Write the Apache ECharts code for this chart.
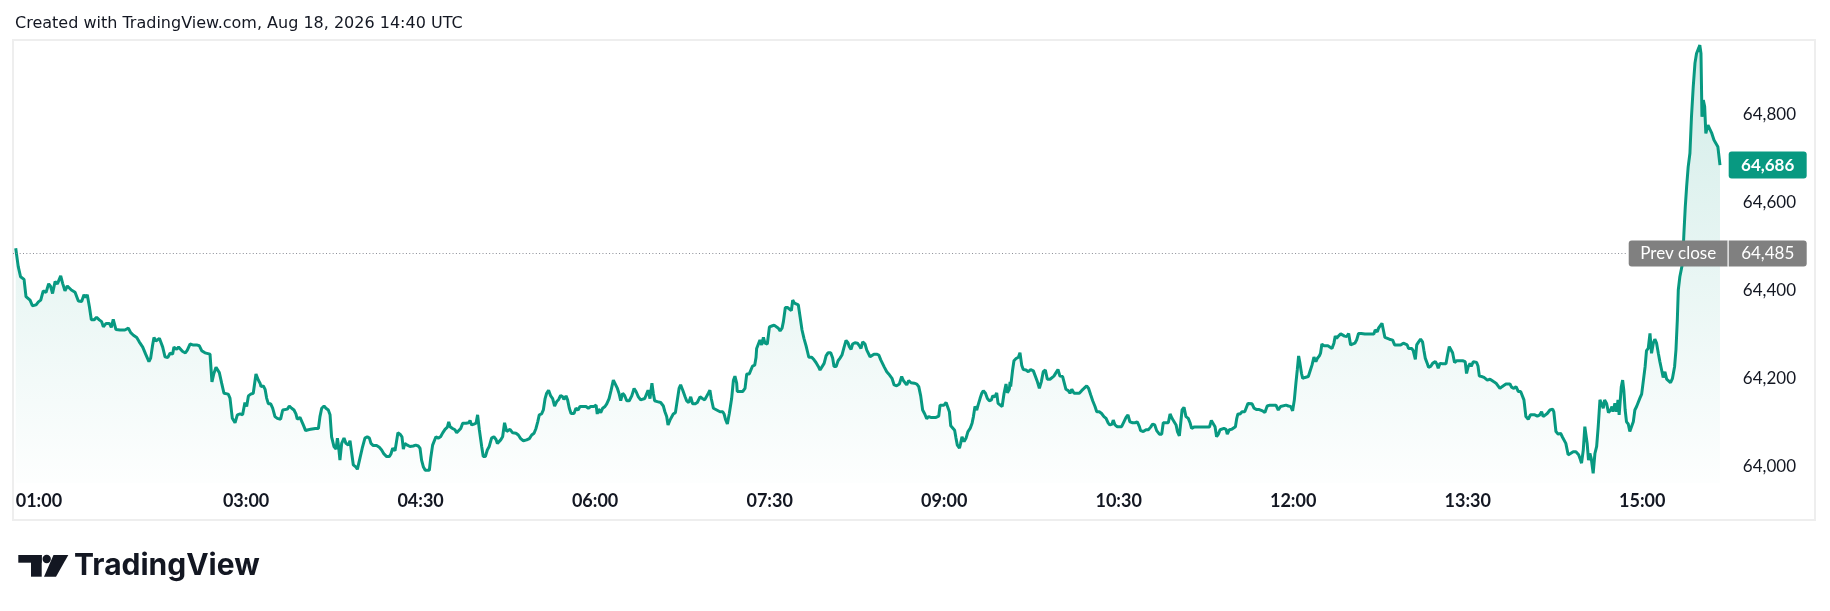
<!DOCTYPE html>
<html>
<head>
<meta charset="utf-8">
<script src="https://cdn.jsdelivr.net/npm/echarts@6/dist/echarts.min.js"></script>
<style>
html,body{margin:0;padding:0;background:#fff;}
#chart{width:1830px;height:611px;}
</style>
</head>
<body>
<div id="chart"></div>
<script>
// Minute of day (e.g. 61.2 = 01:01:12) and price, in sessions
const minutesA = [61.2,62.5,63.7,65.5,66.5,68.6,69.8,71.7,72.9,74.1,
75.4,76.8,78.2,79.2,80.2,81.5,82.7,84.4,85.4,86.6,
87.8,88.8,89.9,91.8,93.5,95.2,96.4,97.4,98.1,99.2,
100.2,101.6,102.9,104.3,105.5,106.4,107.8,109.5,110.5,111.5,
112.9,115.0,117.5,119.3,120.5,121.9,123.6,124.9,126.7,128.2,
129.9,130.8,131.8,132.5,133.5,135.3,137.0,138.2,139.6,140.8,
142.1,142.8,144.2,145.2,147.3,148.7,149.7,151.1,152.5,154.5,
155.9,157.1,158.8,161.4,162.4,163.4,164.5,166.2,167.4,168.6,
170.8,171.7,172.9,174.3,175.5,176.9,178.2,179.4,180.3,181.2,
182.4,183.7,185.1,186.3,187.2];
const pricesA = [64497,64455,64432,64426,64387,64379,64366,64368,64375,64379,
64400,64396,64416,64410,64394,64421,64416,64434,64417,64400,
64411,64410,64402,64397,64377,64376,64391,64385,64391,64364,
64334,64334,64340,64334,64330,64318,64326,64326,64317,64335,
64312,64311,64311,64315,64305,64299,64294,64284,64272,64256,
64239,64247,64277,64294,64286,64292,64272,64250,64248,64258,
64256,64272,64267,64272,64262,64259,64265,64279,64277,64277,
64275,64264,64259,64256,64193,64212,64226,64214,64190,64167,
64165,64156,64110,64100,64118,64120,64118,64146,64137,64161,
64165,64167,64211,64197,64190];

const minutesB = [187.7,188.9,189.8,190.6,191.5,192.7,193.7,194.9,196.1,197.8,
198.9,199.9,201.3,202.3,203.5,204.7,205.7,206.4,207.8,208.7,
209.5,210.7,212.1,213.3,214.3,215.7,217.3,218.1,219.0,220.2,
221.2,222.4,223.3,224.1,225.3,226.4,227.1,227.7,228.4,229.3,
230.5,231.5,232.7,233.6,234.6,235.3,236.7,237.4,238.7,239.9,
241.3,242.5,243.6,244.4,245.6,247.3,248.7,249.9,251.1,252.5,
253.9,254.7,255.6,256.8,257.7,258.3,259.4,260.4,261.1,261.9,
263.2,264.5,265.4,266.2,267.5,268.8,269.7,270.5,271.4,272.4,
274.5,275.2,276.2,277.1,277.9,279.1,280.3,281.4,282.6,283.8,
284.5,285.2,286.5,287.7,288.6,289.5,290.7,291.7,293.4,294.8,
295.5,296.3,297.5,298.6,299.4,300.3,301.5,302.3,303.4,304.4,
305.4,306.6,307.8,308.9,309.6,310.6,311.3,312.3,313.3,314.4,
315.4,316.1];
const pricesB = [64182,64184,64176,64156,64143,64143,64133,64114,64110,64108,
64129,64133,64131,64138,64133,64129,64120,64108,64112,64110,
64095,64082,64084,64085,64082,64087,64087,64114,64133,64138,
64133,64129,64118,64068,64046,64040,64065,64046,64015,64053,
64065,64053,64049,64059,64059,64004,63999,63994,64019,64042,
64065,64068,64065,64053,64048,64048,64044,64038,64029,64023,
64023,64029,64042,64036,64038,64077,64074,64068,64040,64053,
64049,64046,64042,64047,64049,64047,64042,64015,64000,63992,
63992,64019,64049,64046,64068,64065,64068,64077,64085,64090,
64102,64091,64087,64084,64077,64080,64087,64099,64099,64100,
64105,64095,64097,64099,64118,64084,64046,64023,64023,64038,
64046,64065,64068,64062,64053,64053,64061,64068,64100,64080,
64076,64085];

const minutesC = [316.5,317.5,319.2,320.4,321.6,323.0,324.7,326.1,327.3,328.5,
329.5,330.4,331.2,332.4,333.3,334.2,335.0,336.0,337.1,338.1,
339.1,340.2,341.2,342.2,343.3,343.9,345.0,345.8,346.7,347.6,
349.1,350.1,351.2,352.2,353.6,355.3,356.5,357.7,359.4,360.5,
361.1,361.8,362.9,363.9,365.1,366.0,367.2,368.2,369.4,370.4,
371.5,372.3,373.2,374.2,375.2,376.3,377.6,378.9,380.1,381.1,
382.3,383.5,384.5,385.6,386.6,387.3,388.3,389.3,390.0,390.7,
392.1,393.8,395.2,396.0,396.9,397.6,398.6,399.5,400.3,401.4,
402.4,403.3,404.1,405.2,406.4,407.2,408.3,409.3,410.3,411.5,
412.7,414.1,415.3,416.5,417.5,418.4,419.2,419.9,421.0,421.8,
422.7,423.5,424.4,425.8,426.5,427.2,428.2,429.2,430.4,431.3,
432.1,433.0,433.3,434.7,436.1,437.3,438.2,439.5,440.2,441.2,
442.3,443.0,443.3,444.3,445.0];
const pricesC = [64085,64077,64076,64072,64064,64059,64061,64064,64072,64076,
64087,64102,64118,64120,64129,64155,64167,64174,64161,64155,
64138,64148,64153,64162,64159,64153,64161,64152,64133,64121,
64121,64133,64129,64137,64137,64137,64133,64137,64137,64140,
64120,64131,64123,64133,64137,64143,64155,64173,64197,64193,
64178,64167,64150,64167,64162,64150,64150,64161,64178,64171,
64159,64152,64150,64155,64152,64174,64155,64190,64167,64150,
64148,64146,64138,64125,64114,64095,64106,64106,64120,64123,
64125,64178,64186,64174,64159,64150,64146,64159,64143,64143,
64146,64159,64155,64152,64153,64167,64174,64155,64133,64137,
64129,64129,64125,64125,64120,64108,64097,64121,64155,64196,
64206,64190,64171,64171,64171,64178,64211,64211,64214,64229,
64231,64249,64269,64273,64288];

const minutesD = [445.9,446.8,447.6,448.8,449.9,451.1,452.3,453.3,454.5,455.4,
456.4,457.1,458.1,459.2,460.2,461.2,461.9,462.8,463.6,464.8,
465.7,466.7,467.7,468.8,469.5,470.2,471.7,472.9,473.9,475.1,
476.0,477.0,478.1,479.1,480.1,481.5,482.5,483.2,484.3,485.3,
486.3,487.3,488.4,489.4,490.4,491.1,492.0,492.8,494.0,495.3,
496.3,497.1,498.0,499.2,500.1,501.1,501.8,502.8,503.8,505.2,
506.3,507.3,508.3,509.2,510.4,511.4,512.1,513.1,514.2,515.5,
516.9,518.1,519.0,519.8,520.7,521.7,522.9,523.8,524.6,525.9,
526.9,527.9,528.9,530.0,531.0,532.0,533.1,534.4,535.8,537.2,
537.9,538.9,539.9,541.0,542.0,542.7,543.4,544.4,545.4,546.1,
546.8,547.9,548.5,549.2,550.3,551.3,552.3,553.4,554.4,555.1,
555.9,556.8,557.5,558.5,559.4,560.2,561.3,562.3,563.3,564.4,
565.0,566.1,567.1,567.8,568.8,569.9,570.9,571.9,572.6,573.6,
574.0];
const pricesD = [64277,64294,64281,64279,64318,64320,64322,64326,64315,64309,
64315,64330,64362,64362,64358,64355,64379,64372,64373,64368,
64341,64311,64292,64275,64262,64249,64249,64243,64237,64228,
64220,64220,64235,64252,64259,64259,64247,64228,64228,64241,
64247,64254,64272,64287,64282,64273,64267,64279,64282,64281,
64275,64269,64284,64279,64265,64264,64250,64254,64256,64256,
64254,64243,64241,64226,64216,64211,64214,64201,64186,64184,
64188,64205,64196,64191,64186,64196,64191,64193,64190,64188,
64182,64161,64129,64120,64109,64114,64112,64112,64112,64115,
64140,64143,64140,64146,64144,64125,64093,64095,64083,64065,
64049,64042,64053,64068,64057,64065,64080,64087,64099,64114,
64137,64129,64140,64155,64167,64173,64167,64155,64150,64152,
64161,64159,64168,64144,64140,64137,64167,64188,64168,64176,
64193];

const minutesE = [574.3,575.3,576.0,577.1,578.3,579.1,580.0,580.8,582.2,583.4,
584.6,586.0,587.0,588.1,589.1,590.1,591.1,592.2,593.2,594.6,
595.6,596.6,597.7,598.7,599.7,601.1,602.1,602.8,604.0,604.9,
605.8,607.0,608.3,609.7,610.9,612.1,613.5,614.5,615.6,616.6,
617.8,618.7,620.0,621.2,622.4,623.5,624.5,625.5,626.6,627.2,
628.1,629.3,630.3,631.5,632.7,633.8,634.8,635.8,637.2,638.4,
639.6,640.7,641.3,642.7,644.1,645.3,646.5,647.5,648.6,649.6,
651.0,652.2,653.0,654.1,655.6,656.5,657.5,658.5,659.6,660.3,
661.3,662.0,662.7,663.7,664.7,665.9,666.8,667.6,668.8,670.2,
671.9,673.7,675.4,676.8,677.8,678.8,679.7,680.5,681.4,682.3,
683.1,684.3,685.4,686.0,687.1,688.3,689.1,690.2,690.9,691.5,
692.6,693.6,695.0,696.0,696.7,697.7,698.8,699.8,701.2,702.5];
const pricesE = [64182,64220,64241,64246,64249,64259,64231,64221,64220,64216,
64221,64218,64214,64193,64178,64193,64216,64220,64199,64199,
64201,64206,64214,64221,64206,64205,64203,64176,64173,64167,
64176,64167,64167,64167,64173,64178,64184,64178,64163,64150,
64137,64125,64125,64121,64114,64110,64100,64095,64097,64106,
64095,64091,64087,64091,64102,64112,64118,64102,64100,64100,
64102,64091,64082,64080,64084,64084,64090,64097,64095,64082,
64074,64074,64100,64100,64100,64120,64110,64106,64095,64080,
64070,64072,64129,64135,64114,64110,64100,64087,64090,64090,
64090,64090,64090,64090,64105,64102,64091,64068,64074,64084,
64087,64087,64085,64074,64084,64085,64086,64091,64110,64120,
64120,64125,64125,64129,64144,64146,64143,64133,64130,64130];

const minutesF = [704.2,705.4,706.6,708.0,709.7,711.1,712.3,713.5,714.5,716.3,
717.5,718.7,719.7,720.6,721.4,722.1,722.8,723.5,724.3,724.9,
726.1,727.8,728.6,729.7,730.7,731.7,732.4,733.5,734.1,734.8,
735.9,736.9,737.9,738.9,740.0,741.0,741.7,742.4,743.3,744.5,
745.5,746.5,747.6,748.6,749.6,750.6,751.8,752.7,753.7,755.1,
757.0,758.7,760.4,761.6,762.3,763.4,764.0,764.7,765.8,766.5,
767.3,768.2,769.6,771.3,772.3,773.7,775.4,776.8,777.8,778.8,
779.5,781.1,781.9,783.0,783.7,784.7,785.7,786.7,787.4,788.1,
789.2,789.8,790.9,791.9,793.3,794.0,794.8,795.7,797.1,798.8,
799.6,800.5,801.5,802.2,803.2,804.3,805.7,807.4,808.7,809.4,
810.3,811.2,811.8,812.9,813.9,814.6,815.3,816.0,817.3,818.4,
819.4,820.1,821.5,822.5,823.5,824.6,825.6,826.6,827.7,828.7,
829.7,830.7,831.8];
const pricesF = [64127,64123,64138,64140,64140,64140,64129,64137,64140,64140,
64138,64137,64127,64152,64190,64220,64252,64235,64212,64201,
64203,64205,64216,64231,64249,64239,64246,64252,64258,64279,
64275,64273,64275,64272,64269,64281,64297,64292,64297,64302,
64303,64297,64296,64303,64277,64275,64281,64288,64303,64303,
64302,64302,64302,64302,64311,64307,64315,64318,64326,64311,
64294,64290,64290,64288,64277,64277,64277,64281,64281,64277,
64269,64269,64264,64244,64277,64284,64290,64284,64265,64247,
64234,64226,64228,64235,64239,64234,64224,64235,64234,64234,
64254,64273,64272,64259,64237,64241,64241,64241,64239,64212,
64228,64235,64228,64239,64235,64237,64229,64206,64205,64203,
64201,64197,64199,64196,64193,64190,64186,64178,64182,64184,
64188,64190,64188];

const minutesG = [832.6,833.8,834.9,836.1,837.3,838.3,839.0,840.0,841.2,842.4,
843.4,844.6,845.9,847.2,848.1,848.9,849.8,851.0,852.4,853.8,
854.4,855.5,856.7,857.9,858.9,859.6,860.6,861.8,863.0,864.4,
865.8,867.2,867.9,868.7,869.6,870.4,870.9,871.6,872.3,873.0,
873.7,874.7,875.6,876.5,877.3,878.2,879.0,879.9,880.6,881.6,
882.6,883.7,884.4,885.0,885.9,886.8,887.5,888.1,889.2,889.9,
890.5,891.2,891.9,892.8,893.6,894.5,895.4,896.2,897.1,897.9,
898.8,899.7,900.2,900.9,901.5,902.2,903.1,904.0,904.8,905.7,
906.5,907.4,908.3,909.1,910.0,910.8,911.7,912.6,913.6,914.6,
915.6,916.7,917.4,918.1,918.6,919.4,920.3,920.8,921.5,922.2,
922.9,923.7,924.6,925.4,926.3,927.2,928.0,929.1,929.7,930.3,
930.8,931.5,932.2,932.8,933.9,934.9,935.9,937.0,938.0,939.0,
940.1];
const pricesG = [64181,64178,64182,64171,64171,64167,64152,64114,64108,64118,
64115,64118,64115,64118,64125,64114,64112,64121,64129,64131,
64125,64080,64074,64076,64067,64068,64053,64027,64030,64034,
64034,64027,64019,64008,64038,64091,64093,64053,64015,64030,
64019,63985,64030,64046,64091,64152,64156,64133,64152,64144,
64123,64129,64137,64125,64144,64125,64152,64118,64182,64197,
64174,64129,64102,64097,64080,64083,64102,64129,64137,64137,
64156,64165,64182,64178,64228,64264,64269,64303,64258,64281,
64290,64281,64258,64239,64220,64203,64216,64199,64197,64191,
64201,64228,64266,64334,64402,64432,64436,64463,64531,64591,
64637,64682,64713,64796,64864,64918,64940,64952,64959,64940,
64796,64834,64819,64758,64777,64773,64758,64743,64739,64728,
64686];

const xTickMinutes = [60,180,270,360,450,540,630,720,810,900];
const xTickLabels = ['01:00','03:00','04:30','06:00','07:30','09:00','10:30','12:00','13:30','15:00'];
const yTicks = [64000,64200,64400,64600,64800];
const prevClose = 64485;
const lastPrice = 64686;
const prevCloseText = 'Prev close';
const headerText = 'Created with TradingView.com, Aug 18, 2026 14:40 UTC';
const brandText = 'TradingView';

const allMinutes = [].concat(minutesA, minutesB, minutesC, minutesD, minutesE, minutesF, minutesG);
const allPrices = [].concat(pricesA, pricesB, pricesC, pricesD, pricesE, pricesF, pricesG);
const seriesData = allMinutes.map((m, i) => [m, allPrices[i]]);

const fmt = v => Number(v).toLocaleString('en-US');
const FONT = 'Lato, "Open Sans", sans-serif';
const HFONT = '"DejaVu Sans", "Open Sans", sans-serif';
const TEXT = '#131722';
const GREEN = '#089981';
const X_MIN = 59.8, X_MAX = 989.1;

const chart = echarts.init(document.getElementById('chart'), null, {renderer: 'canvas'});
chart.setOption({
  animation: false,
  backgroundColor: '#ffffff',
  grid: {left: 13, right: 15, top: 40, bottom: 128, containLabel: false},
  xAxis: {
    type: 'value', min: X_MIN, max: X_MAX,
    axisLine: {show: false}, axisTick: {show: false}, splitLine: {show: false},
    axisLabel: {
      customValues: xTickMinutes,
      margin: 9,
      color: TEXT, fontFamily: FONT, fontSize: 18, fontWeight: 'bold',
      formatter: function (v) {
        const i = xTickMinutes.indexOf(v);
        const s = i >= 0 ? xTickLabels[i] : '';
        return i === 0 ? '{first|' + s + '}' : s;
      },
      rich: {first: {padding: [0, 0, 0, 51], color: TEXT, fontFamily: FONT, fontSize: 18, fontWeight: 'bold'}}
    }
  },
  yAxis: {
    type: 'value', position: 'right', min: 63962.9, max: 64970.6, scale: true,
    axisLine: {show: false}, axisTick: {show: false}, splitLine: {show: false},
    axisLabel: {
      inside: true, customValues: yTicks, margin: 19,
      color: TEXT, fontFamily: FONT, fontSize: 17,
      formatter: v => fmt(v)
    }
  },
  series: [{
    type: 'line',
    data: seriesData,
    showSymbol: false,
    symbol: 'none',
    lineStyle: {color: GREEN, width: 3},
    areaStyle: {
      color: new echarts.graphic.LinearGradient(0, 0, 0, 1, [
        {offset: 0, color: 'rgba(8,153,129,0.26)'},
        {offset: 1, color: 'rgba(8,153,129,0.01)'}
      ])
    },
    markLine: {
      silent: true,
      symbol: ['none', 'none'],
      animation: false,
      data: [
        [
          {coord: [X_MIN, prevClose],
           lineStyle: {color: '#8a8d96', width: 1, type: [1, 2.33]},
           label: {
             show: true, position: 'end', distance: 2,
             formatter: '{a|' + prevCloseText + '}{g|}{b|' + fmt(prevClose) + '}',
             rich: {
               a: {width: 99, height: 26, lineHeight: 26, align: 'center', color: '#fff', backgroundColor: '#808080', fontFamily: FONT, fontSize: 17, borderRadius: [3, 0, 0, 3]},
               g: {width: 1, height: 26, backgroundColor: '#ffffff'},
               b: {width: 78, height: 26, lineHeight: 26, align: 'center', color: '#fff', backgroundColor: '#808080', fontFamily: FONT, fontSize: 17, borderRadius: [0, 3, 3, 0]}
             }
           }},
          {coord: [892.0, prevClose]}
        ]
      ]
    },
    markPoint: {
      silent: true,
      animation: false,
      data: [{
        coord: [964.7, lastPrice],
        symbol: 'path://M3,0 H75 Q78,0 78,3 V24 Q78,27 75,27 H3 Q0,27 0,24 V3 Q0,0 3,0 Z',
        symbolSize: [78, 27],
        symbolKeepAspect: false,
        itemStyle: {color: GREEN},
        label: {show: true, position: 'inside', formatter: fmt(lastPrice), color: '#ffffff', fontFamily: FONT, fontSize: 17, fontWeight: 'bold'}
      }]
    }
  }],
  graphic: [
    {type: 'rect', silent: true, z: -10, shape: {x: 13, y: 40, width: 1802, height: 480},
     style: {fill: 'none', stroke: '#eeeeee', lineWidth: 2}},
    {type: 'text', silent: true, x: 15, y: 24,
     style: {text: headerText, fill: TEXT, font: '16px ' + HFONT, verticalAlign: 'middle', align: 'left'}},
    {type: 'rect', silent: true, shape: {x: 18.3, y: 555, width: 23.4, height: 7.7}, style: {fill: TEXT}},
    {type: 'rect', silent: true, shape: {x: 31, y: 555, width: 10.7, height: 21.7}, style: {fill: TEXT}},
    {type: 'circle', silent: true, shape: {cx: 46.7, cy: 559, r: 4.2}, style: {fill: TEXT}},
    {type: 'polygon', silent: true, shape: {points: [[53.5, 555], [68.3, 555], [56, 576.7], [44, 576.7]]}, style: {fill: TEXT}},
    {type: 'text', silent: true, x: 74, y: 566,
     style: {text: brandText, fill: TEXT, font: 'bold 30px Inter, Lato, sans-serif', verticalAlign: 'middle', align: 'left'}}
  ]
});
</script>
</body>
</html>
